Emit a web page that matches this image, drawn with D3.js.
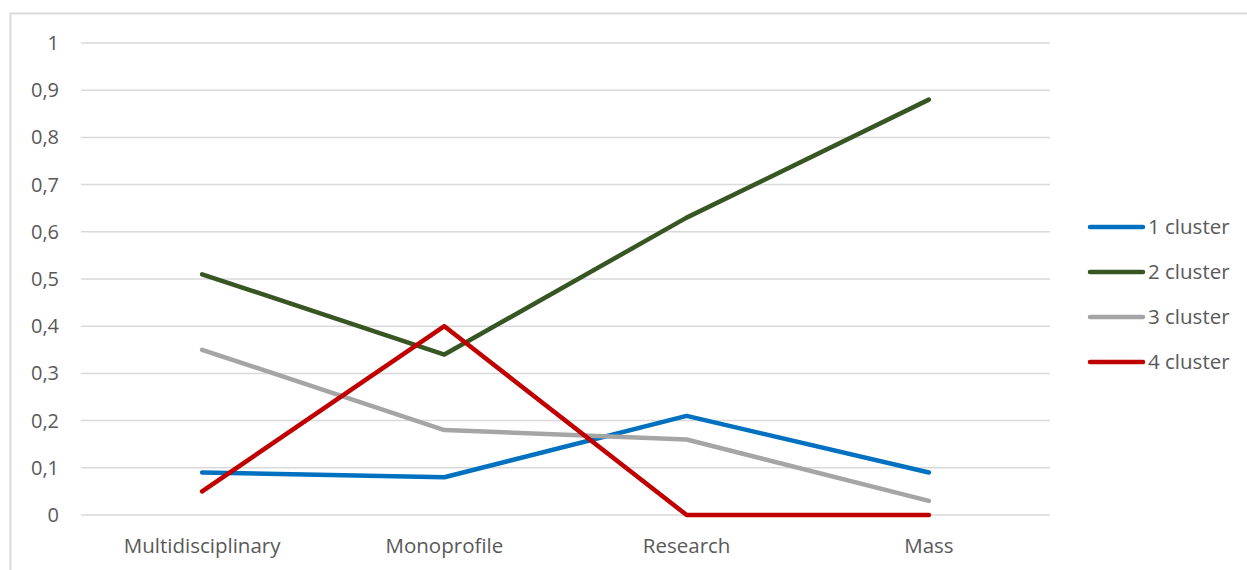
<!DOCTYPE html>
<html lang="en">
<head>
<meta charset="utf-8">
<title>Clusters</title>
<script src="https://cdn.jsdelivr.net/npm/d3@7"></script>
<style>
  body { margin: 0; background: #fff; }
  text { font-family: "Open Sans", Lato, sans-serif; fill: #595959; }
</style>
</head>
<body>
<svg id="chart"></svg>
<script>
const categories = ["Multidisciplinary", "Monoprofile", "Research", "Mass"];
const seriesNames = ["1 cluster", "2 cluster", "3 cluster", "4 cluster"];
const cluster1 = [0.09, 0.08, 0.21, 0.09];
const cluster2 = [0.51, 0.34, 0.63, 0.88];
const cluster3 = [0.35, 0.18, 0.16, 0.03];
const cluster4 = [0.05, 0.40, 0, 0];
const yTicks = [0, 0.1, 0.2, 0.3, 0.4, 0.5, 0.6, 0.7, 0.8, 0.9, 1];

const colours = ["#0070C0", "#375623", "#A5A5A5", "#C00000"];
const series = [cluster1, cluster2, cluster3, cluster4].map((v, i) => ({ name: seriesNames[i], values: v, colour: colours[i] }));

const width = 1247, height = 570;
const svg = d3.select("#chart").attr("width", width).attr("height", height);

// outer frame (only top and left edges are visible in the picture)
svg.append("rect")
  .attr("x", 10.5).attr("y", 13.5)
  .attr("width", 1300).attr("height", 700)
  .attr("fill", "none").attr("stroke", "#d9d9d9").attr("stroke-width", 2);

const x = d3.scaleBand().domain(categories).range([81, 1050]);
const y = d3.scaleLinear().domain([0, 1]).range([515, 43]);

const fmt = d => String(d).replace(".", ",");

// gridlines
svg.append("g").selectAll("line")
  .data(yTicks).enter().append("line")
  .attr("x1", 81).attr("x2", 1050)
  .attr("y1", d => y(d)).attr("y2", d => y(d))
  .attr("stroke", "#d9d9d9").attr("stroke-width", 1.5);

svg.append("g").selectAll("text")
  .data(yTicks).enter().append("text")
  .attr("x", 59).attr("y", d => y(d))
  .attr("dy", "0.35em")
  .attr("text-anchor", "end")
  .style("font-size", "20px")
  .text(fmt);

svg.append("g").selectAll("text")
  .data(categories).enter().append("text")
  .attr("x", d => x(d) + x.bandwidth() / 2)
  .attr("y", 553)
  .attr("text-anchor", "middle")
  .style("font-size", "20.5px")
  .text(d => d);

const line = d3.line()
  .x((d, i) => x(categories[i]) + x.bandwidth() / 2)
  .y(d => y(d));

svg.append("g").selectAll("path")
  .data(series).enter().append("path")
  .attr("d", d => line(d.values))
  .attr("fill", "none")
  .attr("stroke", d => d.colour)
  .attr("stroke-width", 4.5)
  .attr("stroke-linejoin", "round")
  .attr("stroke-linecap", "round");

// legend
const legend = svg.append("g").selectAll("g")
  .data(series).enter().append("g")
  .attr("transform", (d, i) => `translate(1090, ${227 + i * 45})`);

legend.append("line")
  .attr("x1", 0).attr("x2", 53)
  .attr("stroke", d => d.colour)
  .attr("stroke-width", 4.5)
  .attr("stroke-linecap", "round");

legend.append("text")
  .attr("x", 58).attr("dy", "0.35em")
  .style("font-size", "20.5px")
  .text(d => d.name);
</script>
</body>
</html>
